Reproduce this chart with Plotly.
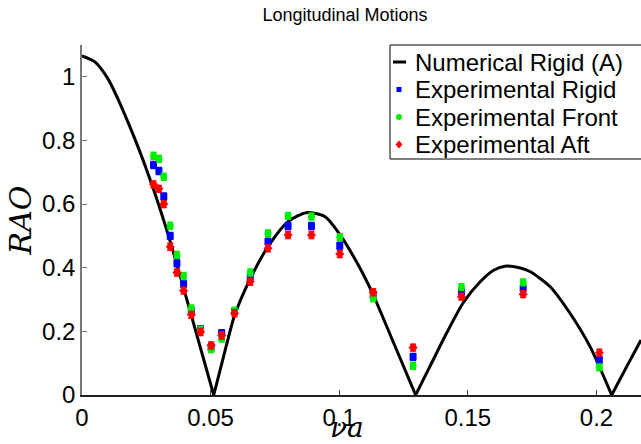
import plotly.graph_objects as go

# Numerical curve, arches separated by None
curve_x = [0, 0.005, 0.010, 0.014, 0.018, 0.022, 0.0256, 0.0295, 0.0328, 0.035, 0.040, 0.045, 0.0512, None,
           0.0512, 0.055, 0.0593, 0.0652, 0.0723, 0.0801, 0.0872, 0.0944, 0.1002, 0.1073, 0.1132, 0.1203, 0.1297, None,
           0.1297, 0.1352, 0.1417, 0.1482, 0.1547, 0.160, 0.1644, 0.170, 0.1741, 0.1819, 0.1897, 0.1975, 0.2059, None,
           0.2059, 0.212, 0.2173]
curve_y = [1.066, 1.047, 0.995, 0.930, 0.855, 0.775, 0.697, 0.606, 0.522, 0.463, 0.322, 0.178, 0.0, None,
           0.0, 0.120, 0.250, 0.362, 0.466, 0.545, 0.573, 0.561, 0.505, 0.410, 0.315, 0.180, 0.0, None,
           0.0, 0.089, 0.194, 0.290, 0.355, 0.392, 0.405, 0.400, 0.388, 0.341, 0.257, 0.152, 0.0, None,
           0.0, 0.093, 0.173]

exp_x = [0.0278, 0.0299, 0.0318, 0.0343, 0.0369, 0.0395, 0.0425, 0.0461, 0.0502, 0.0543, 0.0593,
         0.0654, 0.0723, 0.0801, 0.0892, 0.1002, 0.1132, 0.1287, 0.1475, 0.1715, 0.2011]
rigid_y = [0.723, 0.704, 0.624, 0.500, 0.414, 0.349, 0.264, 0.207, 0.150, 0.194, 0.262,
           0.370, 0.482, 0.531, 0.531, 0.469, 0.314, 0.120, 0.325, 0.335, 0.110]
front_y = [0.752, 0.742, 0.686, 0.532, 0.440, 0.374, 0.272, 0.205, 0.144, 0.177, 0.265,
           0.385, 0.508, 0.563, 0.561, 0.496, 0.304, 0.092, 0.339, 0.354, 0.087]
aft_y = [0.662, 0.648, 0.600, 0.466, 0.385, 0.328, 0.252, 0.198, 0.156, 0.187, 0.257,
         0.356, 0.461, 0.503, 0.503, 0.443, 0.323, 0.149, 0.309, 0.317, 0.133]
err = 0.01

x_ticks = [0, 0.05, 0.1, 0.15, 0.2]
x_tick_text = ["0", "0.05", "0.1", "0.15", "0.2"]
y_ticks = [0, 0.2, 0.4, 0.6, 0.8, 1.0]
y_tick_text = ["0", "0.2", "0.4", "0.6", "0.8", "1"]

legend_labels = ["Numerical Rigid (A)", "Experimental Rigid", "Experimental Front", "Experimental Aft"]
colors = ["black", "#0000ff", "#00ee00", "#ff0000"]
symbols = [None, "square", "circle", "diamond"]

W, H = 641, 444
L, R, T, B = 82, 0, 45, 49
PW, PH = W - L - R, H - T - B


def px_x(p):
    return (p - L) / PW


def px_y(p):
    return (H - B - p) / PH


fig = go.Figure()
fig.add_trace(go.Scatter(x=curve_x, y=curve_y, mode="lines", name=legend_labels[0],
                         line=dict(color=colors[0], width=3, shape="spline", smoothing=0.7),
                         connectgaps=False))
for i, ys in zip([1, 2, 3], [rigid_y, front_y, aft_y]):
    fig.add_trace(go.Scatter(x=exp_x, y=ys, mode="markers", name=legend_labels[i],
                             marker=dict(color=colors[i], symbol=symbols[i], size=7, line=dict(width=0)),
                             error_y=dict(type="constant", value=err, color=colors[i], thickness=2, width=3)))

# custom legend (tight MATLAB-like spacing)
shapes = []
annotations = []
box_left, box_top, box_bottom = 390, 45, 159
shapes.append(dict(type="rect", xref="paper", yref="paper",
                   x0=px_x(box_left), x1=px_x(W + 20), y0=px_y(box_bottom), y1=px_y(box_top),
                   line=dict(color="black", width=1), fillcolor="white", layer="above"))
rows = [62, 89.5, 117, 144.5]
sym_x = 399
for i, (lab, ry) in enumerate(zip(legend_labels, rows)):
    if i == 0:
        shapes.append(dict(type="line", xref="paper", yref="paper",
                           x0=px_x(393), x1=px_x(406), y0=px_y(ry), y1=px_y(ry),
                           line=dict(color="black", width=3), layer="above"))
    elif symbols[i] == "square":
        shapes.append(dict(type="rect", xref="paper", yref="paper",
                           x0=px_x(sym_x - 2.5), x1=px_x(sym_x + 2.5), y0=px_y(ry + 2.5), y1=px_y(ry - 2.5),
                           line=dict(width=0), fillcolor=colors[i], layer="above"))
    elif symbols[i] == "circle":
        shapes.append(dict(type="circle", xref="paper", yref="paper",
                           x0=px_x(sym_x - 3), x1=px_x(sym_x + 3), y0=px_y(ry + 3), y1=px_y(ry - 3),
                           line=dict(width=0), fillcolor=colors[i], layer="above"))
    else:
        pts = [(sym_x, ry - 4), (sym_x + 3.5, ry), (sym_x, ry + 4), (sym_x - 3.5, ry)]
        path = "M " + " L ".join(f"{px_x(a)},{px_y(b)}" for a, b in pts) + " Z"
        shapes.append(dict(type="path", xref="paper", yref="paper", path=path,
                           line=dict(width=0), fillcolor=colors[i], layer="above"))
    annotations.append(dict(text=lab, xref="paper", yref="paper", x=px_x(413), y=px_y(ry),
                            xanchor="left", yanchor="middle", showarrow=False,
                            font=dict(size=24, color="black")))

annotations.append(dict(text="<i>νa</i>", xref="paper", yref="paper", x=px_x(347), y=px_y(427),
                        xanchor="center", yanchor="middle", showarrow=False,
                        font=dict(family="DejaVu Serif, serif", size=28, color="black")))

fig.update_layout(
    width=W, height=H,
    margin=dict(l=L, r=R, t=T, b=B),
    paper_bgcolor="white", plot_bgcolor="white",
    font=dict(family="Liberation Sans, Arial, sans-serif", color="black"),
    title=dict(text="Longitudinal Motions", x=345 / W, xref="container", xanchor="center",
               y=1 - 15 / H, yref="container", yanchor="middle", font=dict(size=18)),
    showlegend=False,
    shapes=shapes,
    annotations=annotations,
)
fig.update_xaxes(range=[0, 0.2173], tickvals=x_ticks, ticktext=x_tick_text,
                 showgrid=False, zeroline=False, showline=True, linecolor="#222", linewidth=1.5,
                 ticks="inside", ticklen=5, tickcolor="#444", tickfont=dict(size=24))
fig.update_yaxes(range=[0, 1.1], tickvals=y_ticks, ticktext=y_tick_text,
                 showgrid=False, zeroline=False, showline=True, linecolor="#777", linewidth=1.5,
                 ticks="inside", ticklen=5, tickcolor="#777", tickfont=dict(size=24),
                 title=dict(text="<i>RAO</i>", font=dict(family="DejaVu Serif, serif", size=30), standoff=2))

fig.write_html("out.html")
